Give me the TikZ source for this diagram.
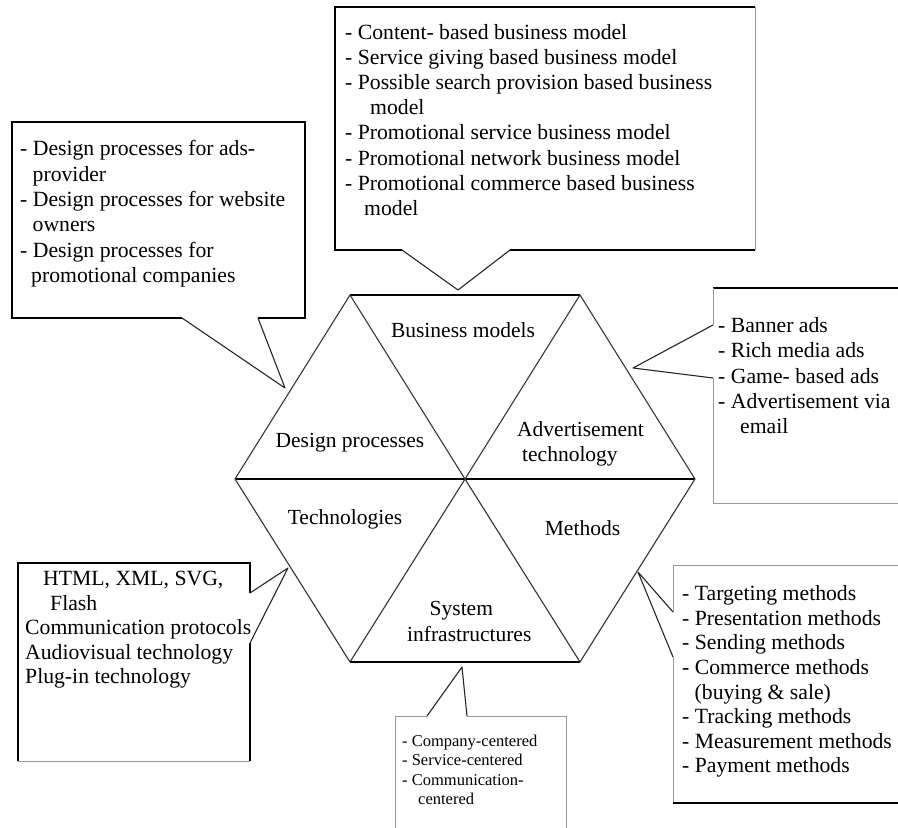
\documentclass[tikz,border=0pt]{standalone}
\usepackage{fontspec}
\setmainfont{Liberation Serif}
\newcommand{\contind}{\hspace*{12.5pt}}
\begin{document}
\begin{tikzpicture}[x=1pt,y=-1pt,
  lbl/.style={font=\fontsize{21.5}{25.3}\selectfont, inner sep=0pt},
  list/.style={font=\fontsize{21.7}{25.3}\selectfont, inner sep=0pt, align=left, anchor=north west},
  hexedge/.style={line width=1.5pt, black},
  hexdiag/.style={line width=1.1pt, black!80},
  strong/.style={line width=1.6pt, black},
  weak/.style={line width=1pt, black!40},
  ptr/.style={line width=1.1pt, black!85, line join=round}]

% canvas
\fill[white] (0,0) rectangle (898,828);
\useasboundingbox (0,0) rectangle (898,828);

% ---------- central hexagon split into six triangles ----------
\coordinate (O)  at (465,479);
\coordinate (TL) at (350,295);
\coordinate (TR) at (580,295);
\coordinate (R)  at (695,479);
\coordinate (BR) at (580,662);
\coordinate (BL) at (350,662);
\coordinate (L)  at (235,479);

\draw[hexedge] (TL) -- (TR);
\draw[hexedge] (BL) -- (BR);
\draw[hexedge] (L) -- (O) -- (R);
\draw[hexdiag] (TR) -- (R) -- (BR);
\draw[hexdiag] (BL) -- (L) -- (TL);
\draw[hexdiag] (TL) -- (O) -- (BR);
\draw[hexdiag] (TR) -- (O) -- (BL);

% sector labels
\node[lbl, anchor=base] (bm) at (463,337.5) {Business models};
\node[lbl, anchor=base] (dp) at (350,447) {Design processes};
\node[lbl, align=left, anchor=north west, font=\fontsize{21.5}{24.3}\selectfont] (at) at (517,419.7)
  {\strut Advertisement\\ \hspace*{5pt}technology};
\node[lbl, anchor=base] (tc) at (345,524) {Technologies};
\node[lbl, anchor=base] (me) at (582.5,535) {Methods};
\node[lbl, align=left, anchor=north west] (si) at (407,598)
  {\strut\hspace*{22.5pt}System\\ infrastructures};

% ---------- callout: business models (top) ----------
\coordinate (bmA) at (402,250);
\coordinate (bmB) at (510,250);
\coordinate (bmTip) at (458,290);
\draw[strong] (bmA) -- (335,250) -- (335,7) -- (755,7);
\draw[weak] (755,7) -- (755,250);
\draw[strong] (755,250) -- (bmB);
\draw[ptr] (bmA) -- (bmTip) -- (bmB);
\node[list, font=\fontsize{21.7}{25.1}\selectfont] (bmText) at (345,21.8)
  {\strut- Content- based business model\\
   - Service giving based business model\\
   - Possible search provision based business\\
   \hspace*{25pt}model\\
   - Promotional service business model\\
   - Promotional network business model\\
   - Promotional commerce based business\\
   \hspace*{19pt}model};

% ---------- callout: design processes (upper left) ----------
\coordinate (dpA) at (182,318);
\coordinate (dpB) at (258,318);
\coordinate (dpTip) at (285,388);
\draw[strong] (dpA) -- (12,318) -- (12,122) -- (305,122) -- (305,318) -- (dpB);
\draw[ptr] (dpA) -- (dpTip) -- (dpB);
\node[list] (dpText) at (20,138)
  {\strut- Design processes for ads-\\
   \contind provider\\
   - Design processes for website\\
   \contind owners\\
   - Design processes for\\
   \hspace*{11pt}promotional companies};

% ---------- callout: advertisement technology (right) ----------
\coordinate (atA) at (713,325);
\coordinate (atB) at (713,378);
\coordinate (atTip) at (633,368);
\draw[strong] (713,288) -- (898,288);
\draw[weak] (atA) -- (713,288);
\draw[weak] (atB) -- (713,503) -- (898,503);
\draw[ptr] (atA) -- (atTip) -- (atB);
\node[list] (atText) at (718,314.5)
  {\strut- Banner ads\\
   - Rich media ads\\
   - Game- based ads\\
   - Advertisement via\\
   \hspace*{22pt}email};

% ---------- callout: technologies (lower left) ----------
\coordinate (tcA) at (250,593);
\coordinate (tcB) at (250,643);
\coordinate (tcTip) at (288,568);
\draw[strong] (tcA) -- (250,563) -- (18,563) -- (18,761);
\draw[weak] (18,761) -- (250,761);
\draw[strong] (250,761) -- (tcB);
\draw[ptr] (tcA) -- (tcTip) -- (tcB);
\node[list, font=\fontsize{21.7}{24.5}\selectfont] (tcText) at (25,568.3)
  {\strut\hspace*{18pt}HTML, XML, SVG,\\
   \hspace*{25pt}Flash\\
   Communication protocols\\
   Audiovisual technology\\
   Plug-in technology};

% ---------- callout: system infrastructures (bottom) ----------
\coordinate (siA) at (427,716);
\coordinate (siB) at (467,716);
\coordinate (siTip) at (462,667);
\draw[weak] (siA) -- (395,716) -- (395,830);
\draw[weak] (siB) -- (566,716) -- (566,830);
\draw[ptr] (siA) -- (siTip) -- (siB);
\node[list, font=\fontsize{16.5}{19.5}\selectfont] (siText) at (402,732.3)
  {\strut- Company-centered\\
   - Service-centered\\
   - Communication-\\
   \hspace*{16pt}centered};

% ---------- callout: methods (lower right) ----------
\coordinate (meA) at (673,612);
\coordinate (meB) at (673,657);
\coordinate (meTip) at (638,572);
\draw[weak] (898,565) -- (673,565) -- (meA);
\draw[weak] (meB) -- (673,803);
\draw[strong] (673,803) -- (898,803);
\draw[ptr] (meA) -- (meTip) -- (meB);
\node[list, font=\fontsize{21.7}{24.6}\selectfont] (meText) at (682,583.3)
  {\strut- Targeting methods\\
   - Presentation methods\\
   - Sending methods\\
   - Commerce methods\\
   \contind(buying \& sale)\\
   - Tracking methods\\
   - Measurement methods\\
   - Payment methods};
\end{tikzpicture}
\end{document}
